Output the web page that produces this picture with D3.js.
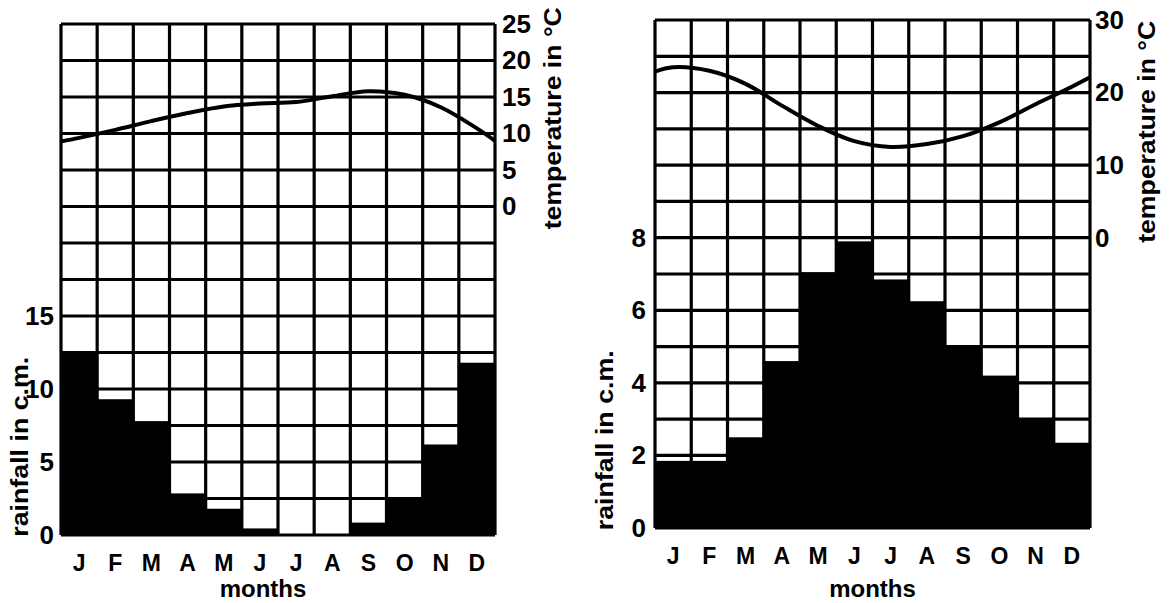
<!DOCTYPE html>
<html>
<head>
<meta charset="utf-8">
<script src="https://cdn.jsdelivr.net/npm/d3@7"></script>
<style>
  body { margin: 0; background: #fff; }
  svg text { font-family: "Liberation Sans", Arial, sans-serif; font-weight: bold; fill: #000; }
</style>
</head>
<body>
<div id="chart"></div>
<script>
var months = ["J", "F", "M", "A", "M", "J", "J", "A", "S", "O", "N", "D"];

// left station
var rainLeft = [12.55, 9.3, 7.8, 2.85, 1.8, 0.45, 0, 0, 0.85, 2.6, 6.2, 11.8];
var tempLeft = [9.4, 10.5, 11.7, 12.8, 13.7, 14.1, 14.3, 15.1, 15.8, 15.3, 13.6, 10.7];
var tempLeftEnds = [8.9, 9.0]; // value at start of Jan, end of Dec
var rainTicksLeft = [0, 5, 10, 15];
var tempTicksLeft = [0, 5, 10, 15, 20, 25];

// right station
var rainRight = [1.85, 1.85, 2.5, 4.6, 7.05, 7.9, 6.85, 6.25, 5.0, 4.2, 3.0, 2.35];
var tempRight = [23.5, 23.0, 21.2, 18.2, 15.4, 13.3, 12.5, 12.9, 14.0, 15.9, 18.4, 20.8];
var tempRightEnds = [22.9, 22.1];
var rainTicksRight = [0, 2, 4, 6, 8];
var tempTicksRight = [0, 10, 20, 30];

const width = 1169;
const height = 603;

const svg = d3.select("#chart").append("svg")
    .attr("width", width)
    .attr("height", height)
    .attr("viewBox", [0, 0, width, height]);

const charts = [
    { rain: rainLeft, temp: tempLeft, ends: tempLeftEnds, rainTicks: rainTicksLeft, tempTicks: tempTicksLeft,
      left: 61, right: 495, top: 24, bottom: 535, rainStep: 2.5, rows: 14, tempTop: 25, tempStep: 5,
      rainPad: 7, tempPad: 7, rainLabelX: 20, tempLabelX: 553, monthsDx: -15 },
    { rain: rainRight, temp: tempRight, ends: tempRightEnds, rainTicks: rainTicksRight, tempTicks: tempTicksRight,
      left: 655, right: 1090, top: 20, bottom: 528, rainStep: 1, rows: 14, tempTop: 30, tempStep: 5,
      rainPad: 9, tempPad: 5, rainLabelX: 605, tempLabelX: 1147, monthsDx: 0 }
];

charts.forEach(function (c) {
    const x = d3.scaleBand()
        .domain(d3.range(12))
        .range([c.left, c.right])
        .padding(0);

    const yRain = d3.scaleLinear()
        .domain([0, c.rows * c.rainStep])
        .range([c.bottom, c.top]);

    const yTemp = d3.scaleLinear()
        .domain([c.tempTop - c.rows * c.tempStep, c.tempTop])
        .range([c.bottom, c.top]);

    const g = svg.append("g");

    // rainfall bars
    g.append("g")
        .selectAll("rect")
        .data(c.rain)
        .join("rect")
        .attr("x", (d, i) => x(i))
        .attr("y", d => yRain(d))
        .attr("width", x.bandwidth())
        .attr("height", d => yRain(0) - yRain(d))
        .attr("fill", "#000");

    // grid
    const grid = g.append("g").attr("stroke", "#000").attr("stroke-width", 3.2);
    grid.selectAll("line.h")
        .data(d3.range(c.rows + 1))
        .join("line")
        .attr("class", "h")
        .attr("x1", c.left)
        .attr("x2", c.right)
        .attr("y1", d => yRain(d * c.rainStep))
        .attr("y2", d => yRain(d * c.rainStep));
    grid.selectAll("line.v")
        .data(d3.range(13))
        .join("line")
        .attr("class", "v")
        .attr("x1", d => c.left + d * x.bandwidth())
        .attr("x2", d => c.left + d * x.bandwidth())
        .attr("y1", c.top)
        .attr("y2", c.bottom);

    // temperature curve
    const pts = [[c.left, c.ends[0]]]
        .concat(c.temp.map((t, i) => [x(i) + x.bandwidth() / 2, t]))
        .concat([[c.right, c.ends[1]]]);

    g.append("path")
        .datum(pts)
        .attr("fill", "none")
        .attr("stroke", "#000")
        .attr("stroke-width", 4)
        .attr("d", d3.line()
            .x(d => d[0])
            .y(d => yTemp(d[1]))
            .curve(d3.curveCatmullRom));

    // axes
    const ra = g.append("g")
        .attr("transform", `translate(${c.left},0)`)
        .call(d3.axisLeft(yRain).tickValues(c.rainTicks).tickSize(0).tickPadding(c.rainPad));
    const ta = g.append("g")
        .attr("transform", `translate(${c.right},0)`)
        .call(d3.axisRight(yTemp).tickValues(c.tempTicks).tickSize(0).tickPadding(c.tempPad));
    const ma = g.append("g")
        .attr("transform", `translate(0,${c.bottom})`)
        .call(d3.axisBottom(x).tickFormat(i => months[i]).tickSize(0).tickPadding(20));

    [ra, ta, ma].forEach(a => {
        a.select(".domain").remove();
        a.selectAll("text").attr("font-family", null).attr("font-size", null)
            .style("font-size", "26px");
    });
    ma.selectAll("text").style("font-size", "23px");

    g.append("text")
        .attr("x", (c.left + c.right) / 2 + c.monthsDx)
        .attr("y", height - 6)
        .attr("text-anchor", "middle")
        .style("font-size", "24px")
        .text("months");

    g.append("text")
        .attr("transform", `translate(${c.rainLabelX},${(yRain(0) + yRain(c.rainStep * 5)) / 2 + 3}) rotate(-90)`)
        .attr("text-anchor", "middle")
        .attr("dy", "0.35em")
        .attr("textLength", 180)
        .attr("lengthAdjust", "spacingAndGlyphs")
        .style("font-size", "24px")
        .text("rainfall in c.m.");

    g.append("text")
        .attr("transform", `translate(${c.tempLabelX},${(c.top + yTemp(0)) / 2 + 3}) rotate(-90)`)
        .attr("text-anchor", "middle")
        .attr("dy", "0.35em")
        .attr("textLength", 222)
        .attr("lengthAdjust", "spacingAndGlyphs")
        .style("font-size", "24px")
        .text("temperature in °C");
});
</script>
</body>
</html>
